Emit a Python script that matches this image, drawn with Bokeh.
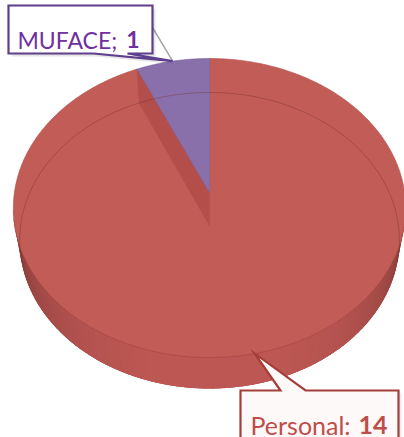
import numpy as np
from bokeh.plotting import figure
from bokeh.models import Range1d
from bokeh.core.properties import value
from bokeh.embed import file_html
from bokeh.resources import INLINE

# ---- data ----
categories = ["Personal", "MUFACE"]
values = [14, 1]
separators = [": ", "; "]

# ---- styles ----
top_colors = ["#c25c57", "#8a70aa"]
side_mid = np.array([0xbc, 0x57, 0x53])
side_dark = np.array([0x7a, 0x35, 0x33])
wall_color = "#b34e4a"
text_colors = ["#bf4d49", "#7030a0"]
border_colors = ["#a33e3b", "#5f3f8c"]
FONT = "Lato"

# ---- 3D perspective geometry (screen pixels) ----
cx, cy0 = 209.0, 192.0
k, D = 1229.0, 6.3
s, c = 0.758, 0.652
h = 0.269
cam = np.array([0.0, D * c, D * s])


def proj(phi_deg, r, z):
    phi = np.radians(np.asarray(phi_deg, dtype=float))
    X = r * np.sin(phi)
    Y = -r * np.cos(phi)
    depth = D - (Y * c + z * s)
    sx = cx + k * X / depth
    sy = cy0 + k * (Y * s - z * c) / depth
    return sx, sy


total = float(sum(values))
ends = np.cumsum(values) / total * 360.0
starts = np.concatenate([[0.0], ends[:-1]])
mids = (starts + ends) / 2.0

p = figure(width=404, height=437, x_range=Range1d(0, 404), y_range=Range1d(437, 0),
           output_backend="svg", toolbar_location=None, min_border=0,
           x_axis_type=None, y_axis_type=None)
p.grid.visible = False
p.outline_line_color = None
p.background_fill_color = "white"
p.border_fill_color = "white"

# ---- side wall ----
# base silhouette of the visible side
base_a = np.linspace(96, 264, 200)
tx, ty = proj(base_a, 1.0, 0.0)
bx, by = proj(base_a[::-1], 1.0, -h)
p.patch(list(tx) + list(bx), list(ty) + list(by), fill_color="#a54a47", line_color=None)

# shaded segments (slightly overlapping to avoid seams)
phis = np.linspace(0, 360, 181)
step = phis[1] - phis[0]
xs_side, ys_side, cols_side = [], [], []
for a0, a1 in zip(phis[:-1], phis[1:]):
    am = np.radians((a0 + a1) / 2)
    n = np.array([np.sin(am), -np.cos(am), 0.0])
    P = np.array([np.sin(am), -np.cos(am), -h / 2])
    v = cam - P
    facing = n.dot(v) / np.linalg.norm(v)
    if facing < -0.03:
        continue
    f = np.clip(facing / 0.5, 0, 1) ** 0.55
    col = side_dark + (side_mid - side_dark) * f
    hexcol = "#%02x%02x%02x" % tuple(int(round(x)) for x in col)
    e0, e1 = a0 - 0.6 * step, a1 + 0.6 * step
    sx0, sy0 = proj([e0, e1], 1.0, 0.0)
    sx1, sy1 = proj([e1, e0], 1.0, -h)
    xs_side.append(list(sx0) + list(sx1))
    ys_side.append(list(sy0) + list(sy1))
    cols_side.append(hexcol)
p.patches(xs_side, ys_side, fill_color=cols_side, line_color=None)

# front rim edge line
fr = np.linspace(100, 260, 120)
rx, ry = proj(fr, 1.0, 0.0)
p.line(rx, ry, line_color="#a5433f", line_width=1.0, line_alpha=0.8)


def top_face(i):
    a = np.linspace(starts[i], ends[i], max(8, int((ends[i] - starts[i]) * 2)))
    x, y = proj(a, 1.0, 0.0)
    return [cx] + list(x), [cy0] + list(y)


# Personal top face
xs0, ys0 = top_face(0)
p.patch(xs0, ys0, fill_color=top_colors[0], line_color="#b14d49", line_width=0.6)

# radial wall visible next to the small slice
wx1, wy1 = proj([ends[0]], 1.0, 0.0)
wx2, wy2 = proj([ends[0]], 1.0, -h)
_, cby = proj([0.0], 0.0, -h)
p.patch([wx1[0], cx, cx, wx2[0]], [wy1[0], cy0, cby[0], wy2[0]],
        fill_color=wall_color, line_color=wall_color, line_width=0.5)

# MUFACE top face
xs1, ys1 = top_face(1)
p.patch(xs1, ys1, fill_color=top_colors[1], line_color="#7a5f9a", line_width=0.6)

# bottom back rim seen through the translucent top
br = np.linspace(-104, 104, 200)
brx, bry = proj(br, 1.0, -h)
p.line(brx, bry, line_color="#6e2a28", line_width=1.0, line_alpha=0.35)

# ---- callouts ----
tipM = proj([mids[1]], 1.0, 0.0)
tipP = proj([mids[0]], 1.0, 0.0)
tipMx, tipMy = float(tipM[0][0]), float(tipM[1][0])
tipPx, tipPy = float(tipP[0][0]), float(tipP[1][0])

# MUFACE label box (above left)
L, T, R, B = 8, 5, 152, 53
p.line([R, tipMx], [27, tipMy], line_color="#a6a6a6", line_width=1.5)
mx = [L, R, R, 127, tipMx, 93, L]
my = [T, T, B, B, tipMy, B, B]
p.patch([x + 3 for x in mx], [y + 3 for y in my], fill_color="#000000", fill_alpha=0.10, line_color=None)
p.patch(mx, my, fill_color="white", line_color=border_colors[1], line_width=2.2, line_join="miter")
p.text(x=[17], y=[39], text=[categories[1] + separators[1].rstrip()], text_font=value(FONT),
       text_font_size="23px", text_color=text_colors[1], text_baseline="alphabetic", text_align="left")
p.text(x=[139], y=[39], text=[str(values[1])], text_font=value(FONT), text_font_style="bold",
       text_font_size="23px", text_color=text_colors[1], text_baseline="alphabetic", text_align="right")

# Personal label box (bottom right)
L2, T2, R2, B2 = 240, 390, 398, 445
px_ = [L2, 280, tipPx, 305, R2, R2, L2]
py_ = [T2, T2, tipPy, T2, T2, B2, B2]
p.patch([x + 3 for x in px_], [y + 3 for y in py_], fill_color="#000000", fill_alpha=0.08, line_color=None)
p.patch(px_, py_, fill_color="#fdf9f9", line_color=border_colors[0], line_width=2.2, line_join="miter")
p.text(x=[250], y=[424], text=[categories[0] + separators[0].rstrip()], text_font=value(FONT),
       text_font_size="25px", text_color=text_colors[0], text_baseline="alphabetic", text_align="left")
p.text(x=[387], y=[424], text=[str(values[0])], text_font=value(FONT), text_font_style="bold",
       text_font_size="25px", text_color=text_colors[0], text_baseline="alphabetic", text_align="right")

open("out.html", "w").write(file_html(p, INLINE))
